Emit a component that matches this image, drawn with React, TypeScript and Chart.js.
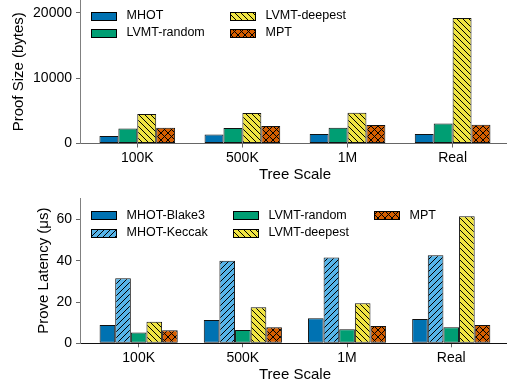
import React, { useEffect, useRef } from 'react';
import { Chart, registerables } from 'chart.js';
Chart.register(...registerables);

const categories = ['100K', '500K', '1M', 'Real'];

// Proof size (bytes)
const sizeTicks = [0, 10000, 20000];
const sizeMHOT = [1150, 1380, 1440, 1440];
const sizeLvmtRandom = [2300, 2360, 2400, 3060];
const sizeLvmtDeepest = [4500, 4650, 4700, 19200];
const sizeMPT = [2400, 2660, 2820, 2860];

// Prove latency (µs)
const latTicks = [0, 20, 40, 60];
const latBlake3 = [8.9, 11.3, 12.1, 11.8];
const latKeccak = [31.6, 40.0, 41.6, 42.7];
const latLvmtRandom = [5.2, 6.5, 6.8, 7.8];
const latLvmtDeepest = [10.5, 17.5, 19.4, 61.7];
const latMPT = [6.3, 7.8, 8.4, 8.9];

const FONT = '"Liberation Sans", Arial, sans-serif';
const BLUE = '#0072B2';
const SKY = '#56B4E9';
const GREEN = '#009E73';
const YELLOW = '#F0E442';
const ORANGE = '#D55E00';

function makeFill(color: string, hatch?: string): any {
  if (!hatch) return color;
  const s = hatch === 'x' ? 7 : 6;
  const c = document.createElement('canvas');
  c.width = s;
  c.height = s;
  const g = c.getContext('2d')!;
  g.fillStyle = color;
  g.fillRect(0, 0, s, s);
  g.strokeStyle = '#000';
  g.lineWidth = 1;
  g.beginPath();
  for (const k of [-1, 0, 1]) {
    if (hatch === '\\' || hatch === 'x') {
      g.moveTo(k * s, 0);
      g.lineTo(k * s + s, s);
    }
    if (hatch === '/' || hatch === 'x') {
      g.moveTo(k * s, s);
      g.lineTo(k * s + s, 0);
    }
  }
  g.stroke();
  return g.createPattern(c, 'repeat');
}

const hatchLegend = {
  id: 'hatchLegend',
  afterDatasetsDraw(chart: any, _args: any, opts: any) {
    const { ctx, chartArea } = chart;
    ctx.save();
    chart.data.datasets.forEach((ds: any, i: number) => {
      const col = Math.floor(i / opts.rows);
      const row = i % opts.rows;
      const x = Math.round(chartArea.left + opts.x + col * opts.colW);
      const yc = chartArea.top + opts.y + row * opts.rowH;
      const y0 = Math.round(yc - opts.boxH / 2);
      ctx.fillStyle = ds.backgroundColor;
      ctx.fillRect(x, y0, opts.boxW, opts.boxH);
      ctx.strokeStyle = '#000';
      ctx.lineWidth = 1;
      ctx.strokeRect(x + 0.5, y0 + 0.5, opts.boxW, opts.boxH);
      ctx.fillStyle = '#000';
      ctx.font = `12.5px ${FONT}`;
      ctx.textBaseline = 'middle';
      ctx.textAlign = 'left';
      ctx.fillText(ds.label, x + opts.textDx, yc);
    });
    ctx.restore();
  },
};

function barSet(label: string, values: number[], color: string, hatch: string | undefined, cp: number) {
  return {
    label,
    data: values.map((v, i) => ({ x: i, y: v })),
    backgroundColor: makeFill(color, hatch),
    borderColor: '#111',
    borderWidth: 1,
    borderSkipped: false,
    categoryPercentage: cp,
    barPercentage: 1,
  };
}

function makeConfig(p: any): any {
  return {
    type: 'bar',
    data: { datasets: p.datasets },
    plugins: [hatchLegend],
    options: {
      animation: false,
      responsive: false,
      maintainAspectRatio: false,
      devicePixelRatio: 1,
      events: [],
      layout: { padding: { top: p.padTop, left: 0, right: 0, bottom: 0 } },
      plugins: {
        legend: { display: false },
        tooltip: { enabled: false },
        hatchLegend: p.legend,
      },
      scales: {
        x: {
          type: 'linear',
          min: p.xMin,
          max: p.xMax,
          offset: false,
          afterBuildTicks: (s: any) => {
            s.ticks = categories.map((_, i) => ({ value: i }));
          },
          afterFit: (s: any) => {
            s.height = p.xHeight;
            s.paddingLeft = 0;
            s.paddingRight = 0;
          },
          ticks: {
            callback: (v: any) => categories[v] ?? '',
            font: { size: 14, family: FONT },
            color: '#000',
            padding: 2,
            maxRotation: 0,
            autoSkip: false,
          },
          grid: { drawOnChartArea: false, drawTicks: true, tickLength: 4, tickColor: '#666', offset: false },
          border: { display: true, color: p.xBorder, width: 1 },
          title: {
            display: true,
            text: 'Tree Scale',
            font: { size: 15, family: FONT },
            color: '#000',
            padding: { top: 0, bottom: p.xTitlePad },
          },
        },
        y: {
          min: 0,
          max: p.yMax,
          afterBuildTicks: (s: any) => {
            s.ticks = p.yTicks.map((v: number) => ({ value: v }));
          },
          afterFit: (s: any) => {
            s.width = 80;
            s.paddingTop = 0;
            s.paddingBottom = 0;
          },
          ticks: {
            callback: (v: any) => String(v),
            font: { size: 14, family: FONT },
            color: '#000',
            padding: 4,
          },
          grid: { drawOnChartArea: false, drawTicks: true, tickLength: 4, tickColor: '#666' },
          border: { display: true, color: '#808080', width: 1 },
          title: {
            display: true,
            text: p.yTitle,
            font: { size: 15, family: FONT },
            color: '#000',
            padding: { top: p.yTitlePad, bottom: 0 },
          },
        },
      },
    },
  };
}

export default function App() {
  const r1 = useRef<HTMLCanvasElement>(null);
  const r2 = useRef<HTMLCanvasElement>(null);

  useEffect(() => {
    const cp1 = 0.72;
    const c1 = new Chart(
      r1.current!,
      makeConfig({
        datasets: [
          barSet('MHOT', sizeMHOT, BLUE, undefined, cp1),
          barSet('LVMT-random', sizeLvmtRandom, GREEN, undefined, cp1),
          barSet('LVMT-deepest', sizeLvmtDeepest, YELLOW, '\\', cp1),
          barSet('MPT', sizeMPT, ORANGE, 'x', cp1),
        ],
        padTop: 0,
        xMin: -0.545,
        xMax: 3.546,
        xHeight: 46.5,
        xBorder: '#666',
        xTitlePad: 6,
        yMax: 21940,
        yTicks: sizeTicks,
        yTitle: 'Proof Size (bytes)',
        yTitlePad: 10,
        legend: { x: 11, y: 16, colW: 139, rowH: 17, rows: 2, boxW: 25, boxH: 8, textDx: 35.5 },
      })
    );
    const cp2 = 0.75;
    const c2 = new Chart(
      r2.current!,
      makeConfig({
        datasets: [
          barSet('MHOT-Blake3', latBlake3, BLUE, undefined, cp2),
          barSet('MHOT-Keccak', latKeccak, SKY, '/', cp2),
          barSet('LVMT-random', latLvmtRandom, GREEN, undefined, cp2),
          barSet('LVMT-deepest', latLvmtDeepest, YELLOW, '\\', cp2),
          barSet('MPT', latMPT, ORANGE, 'x', cp2),
        ],
        padTop: 8,
        xMin: -0.563,
        xMax: 3.564,
        xHeight: 41.7,
        xBorder: '#111',
        xTitlePad: 1,
        yMax: 70.5,
        yTicks: latTicks,
        yTitle: 'Prove Latency (\u03bcs)',
        yTitlePad: 35,
        legend: { x: 11, y: 17.4, colW: 141.7, rowH: 17.5, rows: 2, boxW: 25, boxH: 8, textDx: 35.5 },
      })
    );
    return () => {
      c1.destroy();
      c2.destroy();
    };
  }, []);

  return (
    <div
      style={{
        position: 'fixed',
        left: 0,
        top: 0,
        width: 507,
        height: 385,
        overflow: 'hidden',
        background: '#fff',
      }}
    >
      <canvas
        ref={r1}
        width={510}
        height={190}
        style={{ position: 'absolute', left: 0, top: 0, width: 510, height: 190 }}
      />
      <canvas
        ref={r2}
        width={510}
        height={195}
        style={{ position: 'absolute', left: 0, top: 190, width: 510, height: 195 }}
      />
    </div>
  );
}
